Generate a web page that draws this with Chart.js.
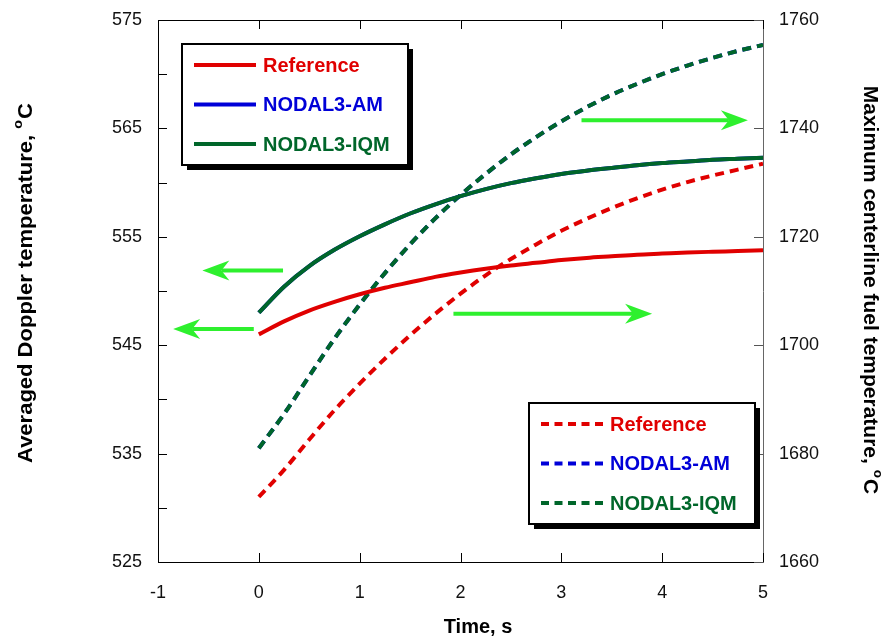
<!DOCTYPE html>
<html lang="en">
<head>
<meta charset="UTF-8">
<title>Doppler and centerline fuel temperature</title>
<script src="https://cdn.jsdelivr.net/npm/chart.js@4.4.0/dist/chart.umd.min.js"></script>
<style>
  html, body { margin: 0; padding: 0; background: #fff; }
  #wrap { width: 884px; height: 639px; }
</style>
</head>
<body>
<div id="wrap"><canvas id="tempChart" width="884" height="639"></canvas></div>
<script>
// time axis, s
const times = [0, 0.25, 0.5, 0.75, 1, 1.25, 1.5, 1.75, 2, 2.25, 2.5, 2.75, 3, 3.25, 3.5, 3.75, 4, 4.25, 4.5, 4.75, 5];
// averaged Doppler temperature (left axis), degC
const dopplerRef = [546.0, 547.2, 548.2, 549.0, 549.7, 550.3, 550.8, 551.3, 551.7, 552.05, 552.35, 552.6, 552.85, 553.05, 553.2, 553.35, 553.45, 553.55, 553.62, 553.68, 553.75];
const dopplerAM = [548.0, 550.4, 552.3, 553.8, 555.05, 556.15, 557.15, 558.0, 558.75, 559.4, 559.95, 560.4, 560.8, 561.1, 561.35, 561.6, 561.8, 561.95, 562.1, 562.2, 562.3];
const dopplerIQM = [548.0, 550.4, 552.3, 553.8, 555.05, 556.15, 557.15, 558.0, 558.75, 559.4, 559.95, 560.4, 560.8, 561.1, 561.35, 561.6, 561.8, 561.95, 562.1, 562.2, 562.3];
// maximum centerline fuel temperature (right axis), degC
const fuelRef = [1672.0, 1677.0, 1682.6, 1688.0, 1692.9, 1697.5, 1701.8, 1705.8, 1709.5, 1712.9, 1715.9, 1718.6, 1721.1, 1723.3, 1725.3, 1727.1, 1728.7, 1730.1, 1731.3, 1732.4, 1733.5];
const fuelAM = [1681.0, 1687.3, 1694.3, 1701.2, 1707.5, 1713.3, 1718.6, 1723.4, 1727.7, 1731.6, 1735.2, 1738.4, 1741.3, 1743.9, 1746.2, 1748.2, 1750.0, 1751.6, 1753.0, 1754.3, 1755.4];
const fuelIQM = [1681.0, 1687.3, 1694.3, 1701.2, 1707.5, 1713.3, 1718.6, 1723.4, 1727.7, 1731.6, 1735.2, 1738.4, 1741.3, 1743.9, 1746.2, 1748.2, 1750.0, 1751.6, 1753.0, 1754.3, 1755.4];
const seriesNames = ["Reference", "NODAL3-AM", "NODAL3-IQM"];

// arrows telling which axis a curve family belongs to: [t tail, t tip, value, axis]
const arrows = [
  [0.24, -0.56, 551.9, "y"],
  [-0.05, -0.85, 546.5, "y"],
  [1.93, 3.90, 1705.8, "y1"],
  [3.20, 4.85, 1741.5, "y1"]
];

const RED = "#e00000", BLUE = "#0000d8", GREEN = "#00662a";
const colors = [RED, BLUE, GREEN];
const FONT = '"Liberation Sans", Arial, sans-serif';
const DASH = [9, 6];

function pts(vals) {
  return times.map((t, i) => ({ x: t, y: vals[i] }));
}

function line(label, vals, color, axis, dashed) {
  return {
    label: label,
    data: pts(vals),
    yAxisID: axis,
    borderColor: color,
    borderWidth: 4,
    borderDash: dashed ? DASH : [],
    cubicInterpolationMode: "monotone",
    pointRadius: 0,
    fill: false
  };
}

function drawArrow(ctx, x0, y, x1) {
  const dir = x1 > x0 ? 1 : -1;
  const head = 27, half = 10, notch = 8;
  ctx.save();
  ctx.strokeStyle = "#2ef02e";
  ctx.fillStyle = "#2ef02e";
  ctx.lineWidth = 4;
  ctx.beginPath();
  ctx.moveTo(x0, y);
  ctx.lineTo(x1 - dir * (head - notch), y);
  ctx.stroke();
  ctx.beginPath();
  ctx.moveTo(x1, y);
  ctx.lineTo(x1 - dir * head, y - half);
  ctx.lineTo(x1 - dir * (head - notch), y);
  ctx.lineTo(x1 - dir * head, y + half);
  ctx.closePath();
  ctx.fill();
  ctx.restore();
}

function drawLegend(ctx, x, y, dashed) {
  const w = 226, h = 121;
  ctx.save();
  ctx.fillStyle = "#000";
  ctx.fillRect(x + 5, y + 5, w, h);
  ctx.fillStyle = "#fff";
  ctx.fillRect(x, y, w, h);
  ctx.strokeStyle = "#000";
  ctx.lineWidth = 2;
  ctx.strokeRect(x, y, w, h);
  ctx.font = "bold 20px " + FONT;
  ctx.textBaseline = "middle";
  seriesNames.forEach((name, i) => {
    const ly = y + 21 + i * 39.5;
    ctx.strokeStyle = colors[i];
    ctx.lineWidth = 4;
    ctx.setLineDash(dashed ? [8, 5.5] : []);
    ctx.beginPath();
    ctx.moveTo(x + 12, ly);
    ctx.lineTo(x + 74, ly);
    ctx.stroke();
    ctx.setLineDash([]);
    ctx.fillStyle = colors[i];
    ctx.fillText(name, x + 81, ly + 1);
  });
  ctx.restore();
}

// axis title with a superscript "o" before the C; stretch runs along the text
function drawTitle(ctx, cx, cy, angle, text, stretch) {
  const main = "bold 20px " + FONT, sup = "bold 13px " + FONT;
  ctx.save();
  ctx.translate(cx, cy);
  ctx.rotate(angle);
  ctx.scale(stretch, 1);
  ctx.fillStyle = "#000";
  ctx.textBaseline = "middle";
  ctx.textAlign = "left";
  ctx.font = main;
  const w1 = ctx.measureText(text).width, w3 = ctx.measureText("C").width;
  ctx.font = sup;
  const w2 = ctx.measureText("o").width + 1;
  let x = -(w1 + w2 + w3) / 2;
  ctx.font = main;
  ctx.fillText(text, x, 0);
  x += w1;
  ctx.font = sup;
  ctx.fillText("o", x, -8);
  x += w2;
  ctx.font = main;
  ctx.fillText("C", x, 0);
  ctx.restore();
}

const decor = {
  id: "decor",
  afterDraw(chart) {
    const ctx = chart.ctx;
    const a = chart.chartArea;
    const sx = chart.scales.x, sy = chart.scales.y, sy1 = chart.scales.y1;
    ctx.save();
    // top frame line
    ctx.strokeStyle = "#000";
    ctx.lineWidth = 1;
    ctx.beginPath();
    ctx.moveTo(a.left, a.top + 0.5);
    ctx.lineTo(a.right, a.top + 0.5);
    ctx.stroke();
    // inward tick marks
    ctx.beginPath();
    for (let v = 525; v <= 575; v += 5) {
      const y = Math.round(sy.getPixelForValue(v)) + 0.5;
      ctx.moveTo(a.left, y);
      ctx.lineTo(a.left + 9, y);
    }
    for (let v = -1; v <= 5; v++) {
      const x = Math.round(sx.getPixelForValue(v)) + 0.5;
      ctx.moveTo(x, a.bottom);
      ctx.lineTo(x, a.bottom - 9);
      ctx.moveTo(x, a.top);
      ctx.lineTo(x, a.top + 9);
    }
    ctx.stroke();
    ctx.strokeStyle = "#555";
    ctx.beginPath();
    for (let v = 1660; v <= 1760; v += 20) {
      const y = Math.round(sy1.getPixelForValue(v)) + 0.5;
      ctx.moveTo(a.right, y);
      ctx.lineTo(a.right - 9, y);
    }
    ctx.stroke();
    ctx.restore();

    arrows.forEach(([t0, t1, v, axis]) => {
      const sc = chart.scales[axis];
      drawArrow(ctx, sx.getPixelForValue(t0), sc.getPixelForValue(v), sx.getPixelForValue(t1));
    });

    drawLegend(ctx, 182, 44, false);
    drawLegend(ctx, 529, 403, true);

    drawTitle(ctx, 26, 283, -Math.PI / 2, "Averaged Doppler temperature, ", 1.1);
    drawTitle(ctx, 870, 290, Math.PI / 2, "Maximum centerline fuel temperature, ", 1.05);
    ctx.save();
    ctx.font = "bold 20px " + FONT;
    ctx.fillStyle = "#000";
    ctx.textAlign = "center";
    ctx.textBaseline = "middle";
    ctx.fillText("Time, s", 478, 627);
    ctx.restore();
  }
};

const ctx = document.getElementById("tempChart").getContext("2d");
new Chart(ctx, {
  type: "line",
  data: {
    datasets: [
      line(seriesNames[2], dopplerIQM, GREEN, "y", false),
      line(seriesNames[1], dopplerAM, BLUE, "y", false),
      line(seriesNames[0], dopplerRef, RED, "y", false),
      line(seriesNames[2], fuelIQM, GREEN, "y1", true),
      line(seriesNames[1], fuelAM, BLUE, "y1", true),
      line(seriesNames[0], fuelRef, RED, "y1", true)
    ]
  },
  options: {
    responsive: false,
    animation: false,
    layout: { padding: { top: 20, left: 0, right: 0, bottom: 0 } },
    plugins: { legend: { display: false }, tooltip: { enabled: false } },
    scales: {
      x: {
        type: "linear",
        min: -1,
        max: 5,
        grid: { display: false, drawTicks: false },
        border: { display: true, color: "#000", width: 1 },
        ticks: { stepSize: 1, padding: 20, color: "#111", font: { family: FONT, size: 18 } },
        afterFit: s => { s.height = 77; s.paddingLeft = 0; s.paddingRight = 0; }
      },
      y: {
        position: "left",
        min: 525,
        max: 575,
        grid: { display: false, drawTicks: false },
        border: { display: true, color: "#000", width: 1 },
        ticks: {
          stepSize: 5,
          padding: 16,
          color: "#111",
          font: { family: FONT, size: 18 },
          callback: v => ((v - 525) % 10 === 0 ? String(v) : "")
        },
        afterFit: s => { s.width = 158; s.paddingTop = 0; s.paddingBottom = 0; }
      },
      y1: {
        position: "right",
        min: 1660,
        max: 1760,
        grid: { display: false, drawTicks: false },
        border: { display: true, color: "#666", width: 1 },
        ticks: {
          stepSize: 20,
          padding: 16,
          color: "#111",
          font: { family: FONT, size: 18 },
          callback: v => String(v)
        },
        afterFit: s => { s.width = 121; s.paddingTop = 0; s.paddingBottom = 0; }
      }
    }
  },
  plugins: [decor]
});
</script>
</body>
</html>
